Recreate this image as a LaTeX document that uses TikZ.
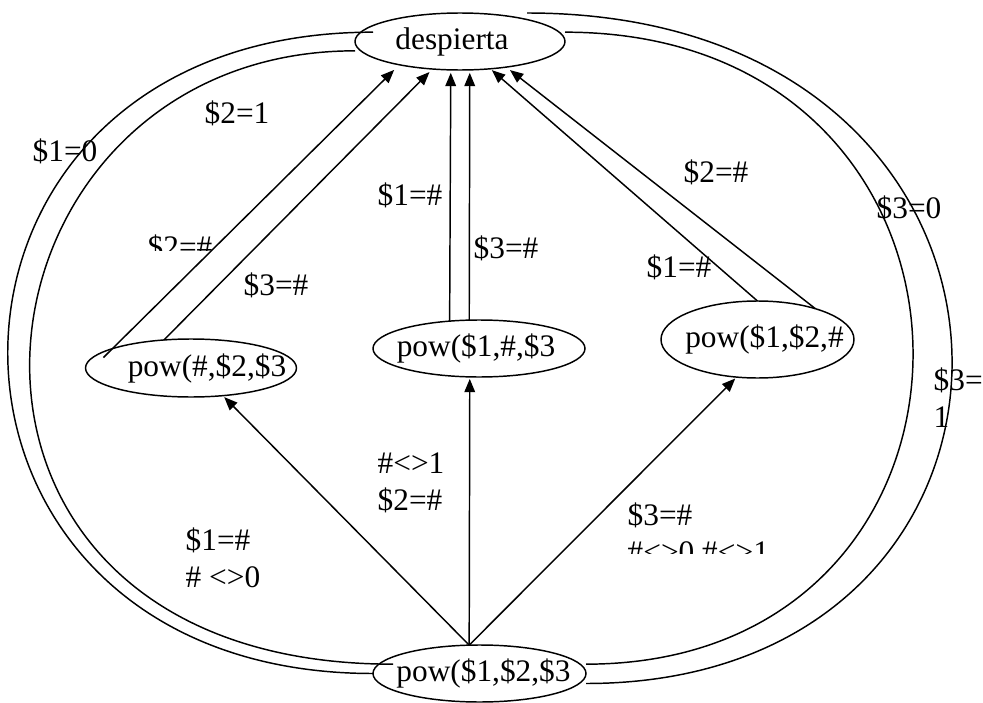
\documentclass[tikz,border=0pt]{standalone}
\usepackage{fontspec}
\setmainfont{Liberation Serif}
\usetikzlibrary{arrows.meta, shapes.geometric}

\begin{document}
\begin{tikzpicture}[
  x=0.75pt, y=-0.75pt,
  font=\fontsize{23.5pt}{27.75pt}\selectfont,
  line width=1.1pt,
  state/.style={ellipse, draw, inner sep=0pt, outer sep=0pt},
  lbl/.style={anchor=base west, inner sep=0pt, align=left},
  trans/.style={-{Triangle[length=10pt, width=8pt]}}
]
  \useasboundingbox (0,0) rectangle (983,703);
  \node[state, minimum width=157.5pt, minimum height=42.75pt] (d) at (460,41.5) {\makebox[0pt]{despierta\hspace*{12pt}}};
  \node[state, minimum width=158.25pt, minimum height=43.5pt] (pa) at (191,368) {\makebox[0pt]{\hspace*{24pt}pow(\#,\$2,\$3}};
  \node[state, minimum width=159pt, minimum height=42.75pt] (pb) at (479,348.5) {\makebox[0pt]{pow(\$1,\#,\$3\hspace*{4.5pt}}};
  \node[state, minimum width=144.75pt, minimum height=57.75pt] (pc) at (757.5,339.5) {\makebox[0pt]{\hspace*{10.5pt}pow(\$1,\$2,\#}};
  \node[state, minimum width=159.75pt, minimum height=42.75pt] (p) at (479.5,673.5) {\makebox[0pt]{\hspace*{6pt}pow(\$1,\$2,\$3}};

  \draw[trans, shorten <=17pt, shorten >=5.5pt] (pa.183) -- (d.201);
  \foreach \a/\b/\g in {pa.134/d.225.5/3.2pt, pb.137/d.252/2.2pt, pb.109/d.289/2.2pt, pc.90/d.318/1.5pt, pc.28/d.331/3.6pt}
    \draw[trans, shorten >=\g] (\a) -- (\b);
  \foreach \b in {pa.319, pb.252, pc.241}
    \draw[trans, shorten >=1.5pt] (p.110) -- (\b);

  \draw ([xshift=13.5pt, yshift=7pt]d.west) .. controls +(-487,0) and +(-487,0) .. (p.west);
  \draw ([yshift=-7pt]d.west) .. controls +(-405,0) and +(-513,0) .. ([xshift=15pt, yshift=7pt]p.west);
  \draw ([xshift=50.25pt]d.north) .. controls +(556,0) and +(498,0) .. ([yshift=-7.5pt]p.east);
  \draw ([yshift=7pt]d.east) .. controls +(460,0) and +(440,0) .. ([yshift=7pt]p.east);

  \node[lbl] (c10) at (32,161) {\$1=0};
  \node[lbl] (c21) at (204,123) {\$2=1};
  \node[lbl] (c3l) at (243,295) {\$3=\#};
  \node[lbl] (c1m) at (377,205) {\$1=\#};
  \node[lbl] (c3m) at (473,258) {\$3=\#};
  \node[lbl] (c2r) at (683,182) {\$2=\#};
  \node[lbl] (c1r) at (646,277) {\$1=\#};
  \node[lbl] (c30) at (876,218) {\$3=0};
  \node[lbl] (c31) at (933,427) {\$3=\\1};
  \node[lbl] (cb) at (377,510) {\#<>1\\\$2=\#};
  \node[lbl] (ca) at (185,587) {\$1=\#\\\# <>0};
  \begin{scope}
    \clip (0,0) rectangle (983,250);
    \node[lbl] (c2l) at (147,257) {\$2=\#};
  \end{scope}
  \begin{scope}
    \clip (0,0) rectangle (983,553);
    \node[lbl] (cc) at (627,562) {\$3=\#\\\#<>0 \#<>1};
  \end{scope}
\end{tikzpicture}
\end{document}
